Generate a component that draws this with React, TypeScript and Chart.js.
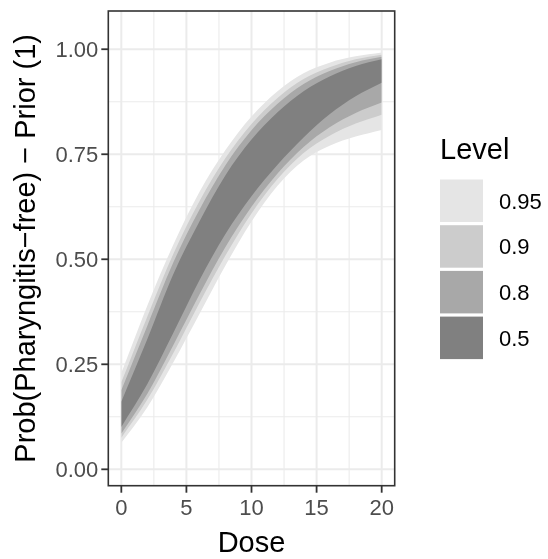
import React, { useEffect, useRef } from "react";
import { Chart, registerables } from "chart.js";
Chart.register(...registerables);

// ---- data ----
const DOSE = [0, 2, 4, 6, 8, 10, 12, 14, 16, 18, 20];
const UPPER_50 = [0.161, 0.310, 0.465, 0.590, 0.700, 0.785, 0.850, 0.900, 0.935, 0.960, 0.976];
const LOWER_50 = [0.101, 0.203, 0.325, 0.450, 0.560, 0.650, 0.725, 0.790, 0.845, 0.888, 0.920];
const UPPER_80 = [0.188, 0.342, 0.493, 0.618, 0.724, 0.807, 0.870, 0.917, 0.948, 0.969, 0.982];
const LOWER_80 = [0.085, 0.180, 0.296, 0.416, 0.529, 0.625, 0.704, 0.767, 0.814, 0.848, 0.873];
const UPPER_90 = [0.207, 0.364, 0.513, 0.638, 0.741, 0.822, 0.884, 0.929, 0.957, 0.976, 0.987];
const LOWER_90 = [0.075, 0.166, 0.277, 0.396, 0.509, 0.609, 0.691, 0.753, 0.794, 0.823, 0.844];
const UPPER_95 = [0.229, 0.390, 0.535, 0.660, 0.760, 0.840, 0.900, 0.943, 0.968, 0.983, 0.992];
const LOWER_95 = [0.063, 0.148, 0.255, 0.370, 0.485, 0.590, 0.675, 0.735, 0.770, 0.792, 0.808];

const X_MAJOR = [0, 5, 10, 15, 20];
const X_MINOR = [2.5, 7.5, 12.5, 17.5];
const X_LABELS = ["0", "5", "10", "15", "20"];
const Y_MAJOR = [0, 0.25, 0.5, 0.75, 1];
const Y_MINOR = [0.125, 0.375, 0.625, 0.875];
const Y_LABELS = ["0.00", "0.25", "0.50", "0.75", "1.00"];

const LEVELS = ["0.95", "0.9", "0.8", "0.5"];
const LEVEL_COLORS = ["#E5E5E5", "#CCCCCC", "#A8A8A8", "#808080"];

const X_TITLE = "Dose";
const Y_TITLE = "Prob(Pharyngitis\u2212free) \u2212 Prior (1)";
const LEGEND_TITLE = "Level";

const FONT = '"Liberation Sans", Arial, Helvetica, sans-serif';

const pts = (ys: number[]) => DOSE.map((d, i) => ({ x: d, y: ys[i] }));

const decor = {
  id: "decor",
  beforeDatasetsDraw(chart: any) {
    const { ctx, chartArea: a, scales } = chart;
    const xs = scales.x, ys = scales.y;
    ctx.save();
    ctx.strokeStyle = "#EBEBEB";
    const vline = (v: number, w: number) => {
      const p = xs.getPixelForValue(v);
      ctx.lineWidth = w;
      ctx.beginPath(); ctx.moveTo(p, a.top); ctx.lineTo(p, a.bottom); ctx.stroke();
    };
    const hline = (v: number, w: number) => {
      const p = ys.getPixelForValue(v);
      ctx.lineWidth = w;
      ctx.beginPath(); ctx.moveTo(a.left, p); ctx.lineTo(a.right, p); ctx.stroke();
    };
    X_MINOR.forEach((v) => vline(v, 1.1));
    Y_MINOR.forEach((v) => hline(v, 1.1));
    X_MAJOR.forEach((v) => vline(v, 2));
    Y_MAJOR.forEach((v) => hline(v, 2));
    ctx.restore();
  },
  afterDraw(chart: any) {
    const { ctx, chartArea: a, scales } = chart;
    const xs = scales.x, ys = scales.y;
    ctx.save();
    // panel border
    ctx.strokeStyle = "#333333";
    ctx.lineWidth = 1.6;
    ctx.strokeRect(a.left, a.top, a.right - a.left, a.bottom - a.top);
    // ticks
    ctx.lineWidth = 1.8;
    X_MAJOR.forEach((v) => {
      const p = xs.getPixelForValue(v);
      ctx.beginPath(); ctx.moveTo(p, a.bottom); ctx.lineTo(p, a.bottom + 7); ctx.stroke();
    });
    Y_MAJOR.forEach((v) => {
      const p = ys.getPixelForValue(v);
      ctx.beginPath(); ctx.moveTo(a.left - 7, p); ctx.lineTo(a.left, p); ctx.stroke();
    });
    // tick labels
    ctx.fillStyle = "#4D4D4D";
    ctx.font = `22px ${FONT}`;
    ctx.textBaseline = "alphabetic";
    ctx.textAlign = "center";
    X_MAJOR.forEach((v, i) => {
      ctx.fillText(X_LABELS[i], xs.getPixelForValue(v), a.bottom + 29);
    });
    ctx.textAlign = "right";
    Y_MAJOR.forEach((v, i) => {
      ctx.fillText(Y_LABELS[i], a.left - 10, ys.getPixelForValue(v) + 8);
    });
    // axis titles
    ctx.fillStyle = "#000000";
    ctx.font = `29px ${FONT}`;
    ctx.textAlign = "center";
    ctx.fillText(X_TITLE, (a.left + a.right) / 2, 552);
    ctx.save();
    ctx.translate(35, (a.top + a.bottom) / 2);
    ctx.rotate(-Math.PI / 2);
    ctx.fillText(Y_TITLE, 0, 0);
    ctx.restore();
    // legend
    ctx.textAlign = "left";
    ctx.fillText(LEGEND_TITLE, 440, 159);
    ctx.font = `22px ${FONT}`;
    LEVELS.forEach((lab, i) => {
      const top = 179.5 + i * 45.7;
      ctx.fillStyle = LEVEL_COLORS[i];
      ctx.fillRect(440, top, 43, 42.5);
      ctx.fillStyle = "#000000";
      ctx.fillText(lab, 499, top + 21.25 + 8);
    });
    ctx.restore();
  },
};

export default function App() {
  const ref = useRef<HTMLCanvasElement>(null);
  useEffect(() => {
    document.body.style.margin = "0";
    const bands = [
      { up: UPPER_50, lo: LOWER_50, color: LEVEL_COLORS[3] },
      { up: UPPER_80, lo: LOWER_80, color: LEVEL_COLORS[2] },
      { up: UPPER_90, lo: LOWER_90, color: LEVEL_COLORS[1] },
      { up: UPPER_95, lo: LOWER_95, color: LEVEL_COLORS[0] },
    ];
    const common = {
      borderWidth: 0,
      borderColor: "rgba(0,0,0,0)",
      pointRadius: 0,
      cubicInterpolationMode: "monotone" as const,
    };
    const datasets: any[] = [];
    bands.forEach((b) => {
      datasets.push({ ...common, data: pts(b.up), fill: "+1", backgroundColor: b.color });
      datasets.push({ ...common, data: pts(b.lo), fill: false, backgroundColor: b.color });
    });
    const chart = new Chart(ref.current!, {
      type: "line",
      data: { datasets },
      options: {
        responsive: false,
        devicePixelRatio: 1,
        animation: false,
        layout: { padding: { left: 108.3, right: 153.3, top: 11, bottom: 73.3 } },
        plugins: { legend: { display: false }, tooltip: { enabled: false } },
        scales: {
          x: { type: "linear", min: -1, max: 21, display: false },
          y: { type: "linear", min: -0.039, max: 1.091, display: false },
        },
      },
      plugins: [decor],
    });
    return () => chart.destroy();
  }, []);
  return (
    <div style={{ width: 548, height: 559 }}>
      <canvas ref={ref} width={548} height={559} style={{ display: "block", width: 548, height: 559 }} />
    </div>
  );
}
